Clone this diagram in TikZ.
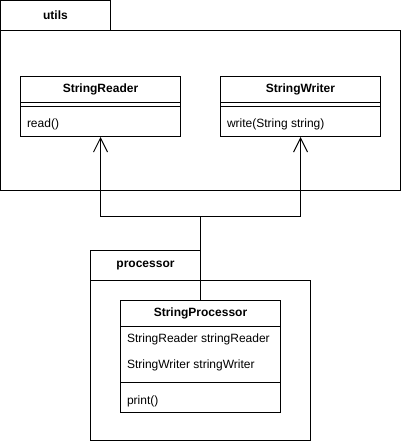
\documentclass[tikz,border=0pt]{standalone}
\usepackage{fontspec}
\setmainfont{Liberation Sans}
\usetikzlibrary{arrows.meta}

\tikzset{
  txt/.style={font=\fontsize{9}{11}\selectfont, inner sep=0pt},
  title/.style={txt, font=\fontsize{9}{11}\selectfont\bfseries},
  member/.style={txt, anchor=west},
  classbox/.style={draw, inner sep=0pt, minimum width=120pt},
  inherit/.style={-{Straight Barb[length=10.5pt, width=10.5pt]}}
}

\begin{document}
\begin{tikzpicture}[x=0.75pt,y=0.75pt,yscale=-1, line width=0.75pt]
\useasboundingbox (-0.5,-0.5) rectangle (400.5,440.5);

% package utils
\draw (0,0) rectangle (110,30);
\draw (0,30) rectangle (400,190);
\node [title] (utils) at (55,15) {utils};

% package processor
\draw (90,250) rectangle (200,280);
\draw (90,280) rectangle (310,440);
\node [title] (processor) at (145,265) {processor};

\node [classbox, minimum height=45pt] (reader) at (100,106) {};
\draw (20,102) -- (180,102);
\draw (20,106) -- (180,106);
\node [title] (readername) at (100,89) {StringReader};
\node [member] (readerop) at (26,124) {read()};

\node [classbox, minimum height=45pt] (writer) at (300,106) {};
\draw (220,102) -- (380,102);
\draw (220,106) -- (380,106);
\node [title] (writername) at (300,89) {StringWriter};
\node [member] (writerop) at (226,124) {write(String string)};

\node [classbox, minimum height=84pt] (proc) at (200,356) {};
\draw (120,326) -- (280,326);
\draw (120,382) -- (280,382);
\node [title] (procname) at (200,313) {StringProcessor};
\node [member] (procattr1) at (126,339) {StringReader stringReader};
\node [member] (procattr2) at (126,365) {StringWriter stringWriter};
\node [member] (procop) at (126,401) {print()};

\coordinate (junc) at (200,216);
\draw (proc.north) -- (junc);
\draw [inherit] (junc) -| (reader.south);
\draw [inherit] (junc) -| (writer.south);

\end{tikzpicture}
\end{document}
